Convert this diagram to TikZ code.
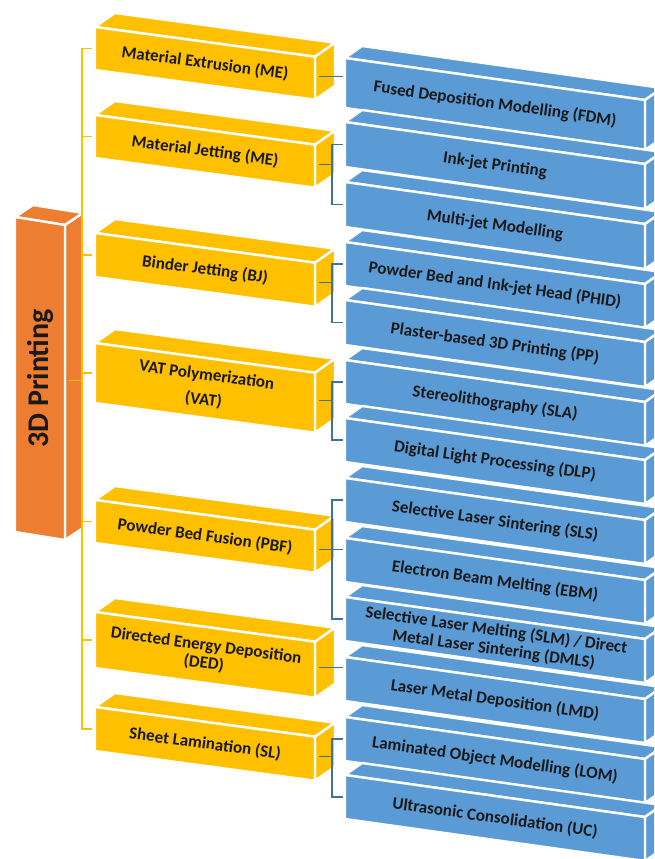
\documentclass[tikz,border=0pt]{standalone}
\usepackage{fontspec}
\setmainfont{Carlito}
\usepackage{tikz}
\usetikzlibrary{calc}
\definecolor{pryellow}{HTML}{FFC000}
\definecolor{prblue}{HTML}{5B9BD5}
\definecolor{prorange}{HTML}{ED7D31}
\definecolor{prsteel}{HTML}{41719C}

% slanted slab: name, x, y, width, height, kind, label
\newcommand{\slab}[7]{%
  \path[face,#6] (#2,#3) -- ++(#4,{\slp*#4}) -- ++(\sdx,-\sdep) -- ++(-#4,{-\slp*#4}) -- cycle;
  \path[face,#6] ({#2+#4},{#3+\slp*#4}) -- ++(\sdx,-\sdep) -- ++(0,#5) -- ++(-\sdx,\sdep) -- cycle;
  \path[face,#6] (#2,#3) -- ++(#4,{\slp*#4}) -- ++(0,#5) -- ++(-#4,{-\slp*#4}) -- cycle;
  \node[#6lab, rotate=\tilt] (#1) at ({#2+#4/2},{#3+\slp*#4/2+#5/2}) {#7};
  \coordinate (#1-w) at (#2,{#3+#5/2});
  \coordinate (#1-e) at ({#2+#4+4},{#3+\slp*#4+#5/2-2});
}

\begin{document}
\begin{tikzpicture}[
  x=1pt, y=-1pt,
  face/.style={draw=white, line width=2.4pt},
  org/.style={fill=prorange},
  yel/.style={fill=pryellow},
  blu/.style={fill=prblue},
  orglab/.style={font=\bfseries\fontsize{30}{34}\selectfont, text=black!90, inner sep=0pt},
  yellab/.style={font=\bfseries\fontsize{17}{20}\selectfont, align=center, text=black!90, inner sep=0pt},
  blulab/.style={font=\bfseries\fontsize{17}{19}\selectfont, align=center, text=black!90, inner sep=0pt},
  ylink/.style={draw=pryellow, line width=1.2pt},
  blink/.style={draw=prsteel, line width=1.3pt}]

\useasboundingbox (0,0) rectangle (654,859);
\clip (0,0) rectangle (654,859);

% root pillar
\def\slp{0.16}\def\sdx{18}\def\sdep{12}\def\tilt{90}
\slab{core}{15}{217}{50}{315}{org}{3D Printing}

% process categories
\def\slp{0.135}\def\sdx{20}\def\sdep{14}\def\tilt{-7.7}
\slab{me}{95}{27}{220}{43}{yel}{Material Extrusion (ME)}
\slab{mj}{95}{115}{220}{43}{yel}{Material Jetting (ME)}
\slab{bj}{95}{233}{220}{44}{yel}{Binder Jetting (BJ)}
\slab{vat}{95}{343}{220}{60}{yel}{VAT Polymerization\\[5pt](VAT)}
\slab{pbf}{95}{500}{220}{43}{yel}{Powder Bed Fusion (PBF)}
\slab{ded}{95}{612}{220}{56}{yel}{Directed Energy Deposition\\[-2pt](DED)}
\slab{sl}{95}{707}{220}{44}{yel}{Sheet Lamination (SL)}

% technologies
\def\slp{0.14}\def\sdx{17}\def\sdep{12}\def\tilt{-8}
\slab{fdm}{345}{58}{300}{50}{blu}{Fused Deposition Modelling (FDM)}
\slab{ink}{345}{122}{300}{45}{blu}{Ink-jet Printing}
\slab{mjm}{345}{182}{300}{45}{blu}{Multi-jet Modelling}
\slab{phid}{345}{242}{300}{44}{blu}{Powder Bed and Ink-jet Head (PHID)}
\slab{pp}{345}{300}{300}{45}{blu}{Plaster-based 3D Printing (PP)}
\slab{sla}{345}{360}{300}{44}{blu}{Stereolithography (SLA)}
\slab{dlp}{345}{418}{300}{44}{blu}{Digital Light Processing (DLP)}
\slab{sls}{345}{478}{300}{44}{blu}{Selective Laser Sintering (SLS)}
\slab{ebm}{345}{538}{300}{44}{blu}{Electron Beam Melting (EBM)}
\slab{slm}{345}{597}{300}{44}{blu}{Selective Laser Melting (SLM) / Direct\\Metal Laser Sintering (DMLS)}
\slab{lmd}{345}{657}{300}{44}{blu}{Laser Metal Deposition (LMD)}
\slab{lom}{345}{717}{300}{44}{blu}{Laminated Object Modelling (LOM)}
\slab{uc}{345}{775}{300}{44}{blu}{Ultrasonic Consolidation (UC)}

% root to categories
\coordinate (spine) at (82,0);
\draw[ylink, shorten <=3pt, shorten >=3pt] (me-w) -- (me-w -| spine) -- (sl-w -| spine) -- (sl-w);
\foreach \n in {mj,bj,vat,pbf,ded}
  \draw[ylink, shorten >=3pt] (\n-w -| spine) -- (\n-w);
\draw[ylink] (core-e) -- (core-e -| spine);

% categories to technologies
\coordinate (fork) at (332,0);
\draw[blink, shorten >=2pt] (me-e) -- (me-e -| fdm-w);
\draw[blink, shorten >=2pt] (ded-e) -- (ded-e -| lmd-w);
\draw[blink, shorten >=2pt] (pbf-e) -- (pbf-e -| ebm-w);
\foreach \p/\a/\b in {mj/ink/mjm, bj/phid/pp, vat/sla/dlp, pbf/sls/slm, sl/lom/uc} {
  \draw[blink, shorten <=2pt, shorten >=2pt] (\a-w) -- (\a-w -| fork) -- (\b-w -| fork) -- (\b-w);
  \draw[blink] (\p-e) -- (\p-e -| fork);
}

\end{tikzpicture}
\end{document}
